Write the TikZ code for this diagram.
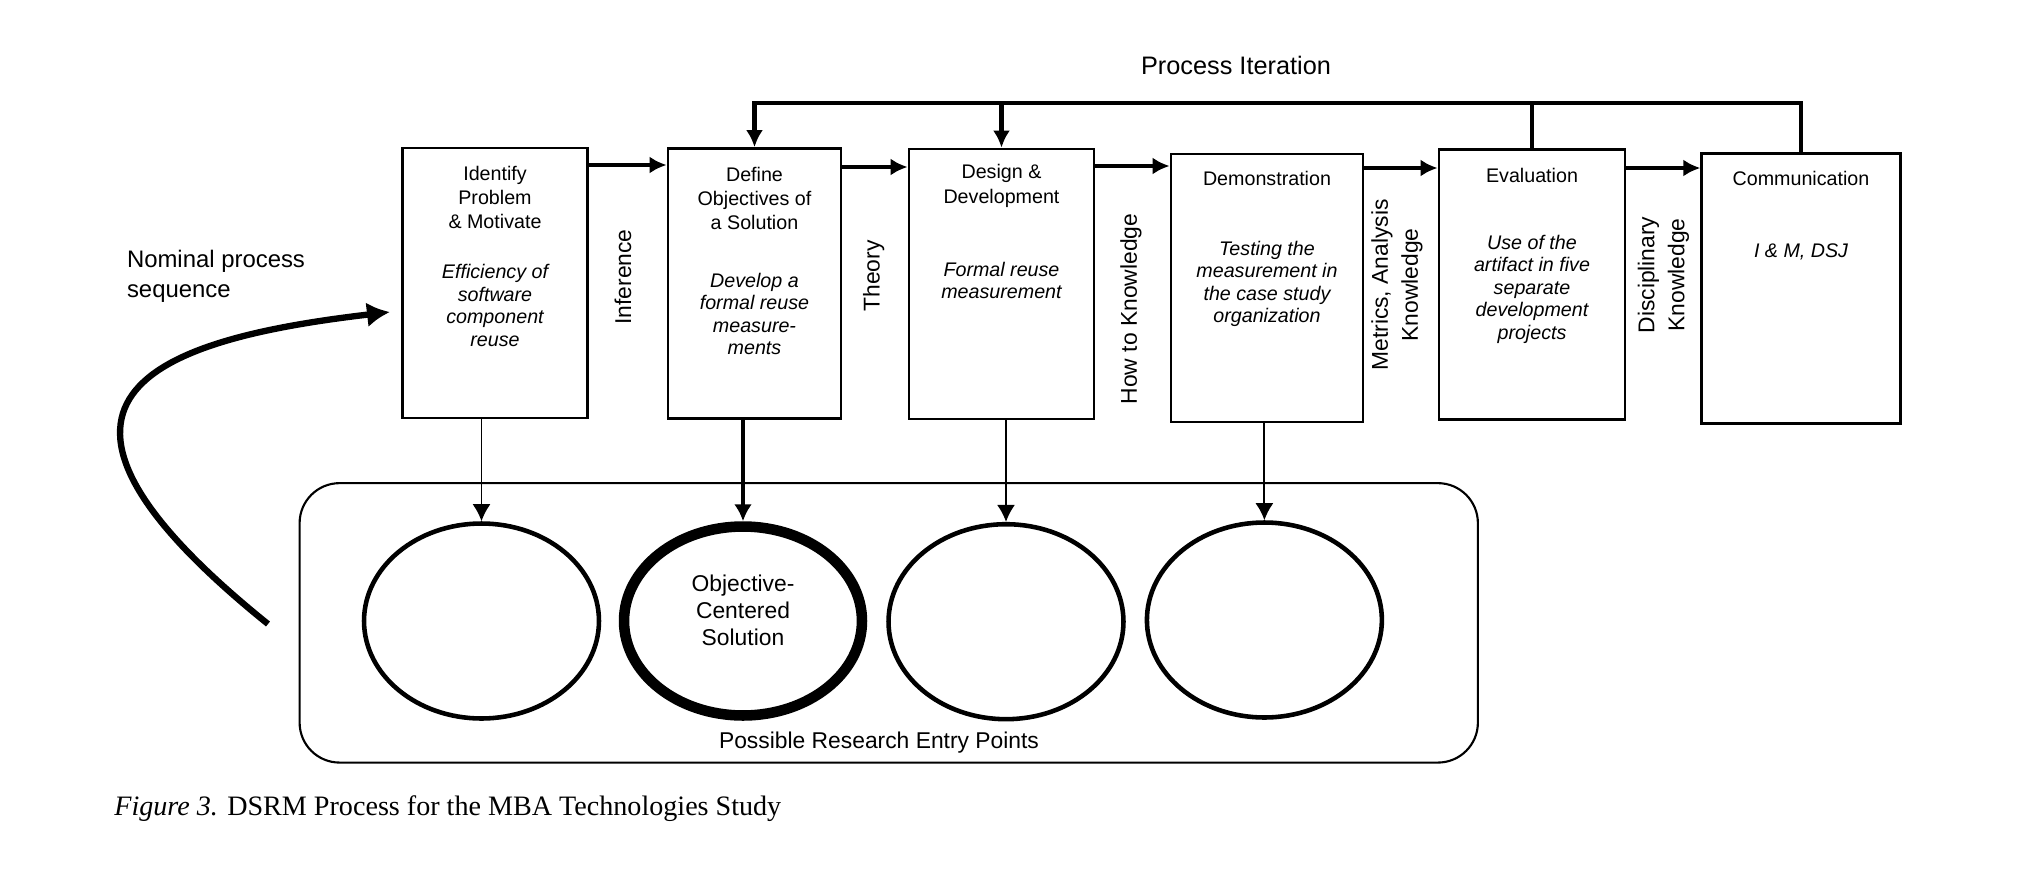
\documentclass[tikz,border=0pt]{standalone}
\usepackage{fontspec}
\setmainfont{Liberation Sans}
\newfontfamily\capfont{Liberation Serif}
\usetikzlibrary{arrows.meta}
\usetikzlibrary{shapes.geometric}

\tikzset{
 stage/.style={draw, rectangle, line width=1.6pt, minimum height=5.4cm},
 stagetitle/.style={font=\fontsize{11.2}{13.8}\selectfont, align=center},
 stagenote/.style={font=\fontsize{11.2}{12.8}\selectfont\itshape, align=center},
 flowlabel/.style={font=\fontsize{13}{17}\selectfont, rotate=90, align=center},
 flow/.style={line width=2.3pt, -{Latex[length=0.34cm,width=0.34cm]}},
 pointer/.style={line width=1.1pt, -{Latex[length=0.34cm,width=0.36cm]}},
 entry/.style={draw, ellipse, line width=2.6pt, minimum width=4.7cm, minimum height=3.9cm},
}

\begin{document}
\begin{tikzpicture}[x=0.02cm, y=-0.02cm]
\useasboundingbox (0,0) rectangle (2026,896);

 %steps
 \node[stage, minimum width=3.69cm] (identify) at (495,283) {};
 \node[stage, minimum width=3.46cm] (objectives) at (754.5,283.5) {};
 \node[stage, minimum width=3.70cm] (design) at (1001.5,284) {};
 \node[stage, minimum width=3.84cm, minimum height=5.36cm] (demo) at (1267,288) {};
 \node[stage, minimum width=3.72cm] (evaluation) at (1532,284.5) {};
 \node[stage, minimum width=3.97cm] (communication) at (1801,288.5) {};

 \node[stagetitle] (identifytitle) at (495,197.5) {Identify\\Problem\\\& Motivate};
 \node[stagetitle] (objectivestitle) at (754.5,198.5) {Define\\Objectives of\\a Solution};
 \node[stagetitle] (designtitle) at (1001.5,186) {Design \&\\Development};
 \node[stagetitle] (demotitle) at (1267,178) {Demonstration};
 \node[stagetitle] (evaluationtitle) at (1532,175) {Evaluation};
 \node[stagetitle] (communicationtitle) at (1801,178) {Communication};

 \node[stagenote] (identifynote) at (495,305.5) {Efficiency of\\software\\component\\reuse};
 \node[stagenote] (objectivesnote) at (754.5,314) {Develop a\\formal reuse\\measure-\\ments};
 \node[stagenote] (designnote) at (1001.5,280.5) {Formal reuse\\measurement};
 \node[stagenote] (demonote) at (1267,284) {Testing the\\measurement in\\the case study\\organization};
 \node[stagenote] (evaluationnote) at (1532,289) {Use of the\\artifact in five\\separate\\development\\projects};
 \node[stagenote] (communicationnote) at (1801,252) {I \& M, DSJ};

 \draw[flow] (identify.east |- 0,165) -- (objectives.west |- 0,165);
 \draw[flow] (objectives.east |- 0,167) -- (design.west |- 0,167);
 \draw[flow] (design.east |- 0,166) -- (demo.west |- 0,166);
 \draw[flow] (demo.east |- 0,168) -- (evaluation.west |- 0,168);
 \draw[flow] (evaluation.east |- 0,168) -- (communication.west |- 0,168);

 \node[flowlabel] (inference) at (623,277) {Inference};
 \node[flowlabel] (theory) at (873.6,276) {Theory};
 \node[flowlabel] (howto) at (1131,309) {How to Knowledge};
 \node[flowlabel] (metrics) at (1397,285) {Metrics, Analysis\\Knowledge};
 \node[flowlabel] (disciplinary) at (1663.5,275) {Disciplinary\\Knowledge};

 %iteration
 \coordinate (loop) at (0,103);
 \node[font=\fontsize{14.4}{17}\selectfont] (iteration) at (1236,65) {Process Iteration};
 \draw[flow] (communication.north) -- (communication.north |- loop) -- (objectives.north |- loop) -- (objectives.north);
 \draw[line width=2.3pt] (evaluation.north) -- (evaluation.north |- loop);
 \draw[flow] (design.north |- loop) -- (design.north);

 %nominal sequence
 \node[anchor=west, align=left, inner sep=0pt, font=\fontsize{13.6}{17}\selectfont] (nominal) at (126.7,276) {Nominal process\\sequence};
 \coordinate (nomstart) at (268,624);
 \coordinate (nomend) at (390,312);
 \draw[line width=3.6pt, -{Latex[length=0.46cm,width=0.5cm]}] (nomstart) .. controls (-10,400) and (150,340) .. (nomend);

 %entry points
 \node[draw, rounded corners=0.8cm, line width=1.2pt, minimum width=23.57cm, minimum height=5.59cm] (entrypoints) at (888.75,622.85) {};
 \node[font=\fontsize{13}{15}\selectfont] (entrylabel) at (879,743) {Possible Research Entry Points};

 \node[entry] (entry1) at (481.5,621) {};
 \node[entry, line width=6pt, minimum width=4.76cm, minimum height=3.78cm] (entry2) at (743,621) {};
 \node[entry] (entry3) at (1006,621.7) {};
 \node[entry] (entry4) at (1264.4,620) {};
 \node[font=\fontsize{13}{15.4}\selectfont, align=center] (entry2text) at (743,610) {Objective-\\Centered\\Solution};

 \draw[pointer] (identify.south -| entry1.north) -- (entry1.north);
 \draw[pointer, line width=2.2pt] (objectives.south -| entry2.north) -- (entry2.north);
 \draw[pointer] (design.south -| entry3.north) -- (entry3.north);
 \draw[pointer] (demo.south -| entry4.north) -- (entry4.north);

 \node[anchor=west, inner sep=0pt, font=\capfont\fontsize{16}{19}\selectfont] (caption) at (114,809) {\textit{Figure 3.} DSRM Process for the MBA Technologies Study};
\end{tikzpicture}
\end{document}
